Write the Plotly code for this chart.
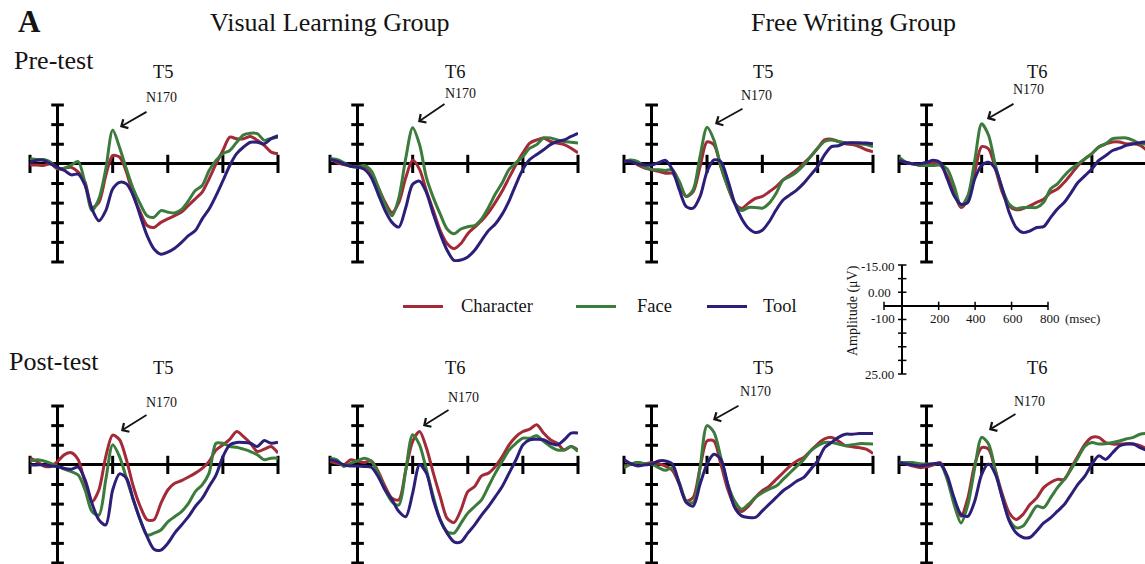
import plotly.graph_objects as go

W, H = 1145, 564

# ---------------- data ----------------
time_ms = [-100, -75, -50, -25, 0, 25, 50, 75, 100, 125, 150, 175, 200, 225, 250, 275, 300,
           325, 350, 375, 400, 425, 450, 475, 500, 525, 550, 575, 600, 625, 650, 675, 700,
           725, 750, 775, 800]
categories = ["Character", "Face", "Tool"]
colors = ["#A32A36", "#3B7B3B", "#2B1F7A"]
x_tick_ms = [-100, 200, 400, 600, 800]
y_tick_uv = [-15, -10, -5, 5, 10, 15, 20, 25]
scale_x_labels = ["-100", "200", "400", "600", "800"]
scale_y_labels = ["-15.00", "0.00", "25.00"]
electrodes = ["T5", "T6", "T5", "T6"]
groups = ["Visual Learning Group", "Free Writing Group"]
sessions = ["Pre-test", "Post-test"]

# Visual Learning Group, Pre-test
vl_pre_t5_character = [0.3, 0.3, 0.4, 0, 1.3, 1.1, 0.9, 2.1, 4.7, 11.1, 9.8, 3.0, -2.1, -1.7, 2.1, 8.1, 12.3, 15.7, 16.2, 14.9, 14.0, 13.2, 12.3, 10.6, 8.9, 7.2, 3.8, 0, -3.4, -6.8, -6.4, -6.4, -7.0, -6.0, -4.7, -3.0, -2.6]
vl_pre_t5_face = [-1.3, -1.1, -1.1, -0.4, 1.1, 1.1, 0.3, -0.6, 5.0, 11.9, 8.9, 1.3, -8.6, -4.2, 1.3, 6.4, 10.2, 13.2, 13.6, 11.9, 12.3, 12.5, 11.6, 9.4, 6.8, 5.5, 1.7, -0.9, -2.6, -3.4, -5.5, -7.4, -7.8, -7.7, -6.0, -6.5, -6.8]
vl_pre_t5_tool = [-0.4, -0.9, -0.9, 0, 0.9, 1.7, 2.8, 2.6, 5.5, 11.5, 14.5, 11.9, 6.4, 4.7, 5.1, 8.1, 13.2, 18.3, 21.7, 23.0, 22.5, 21.5, 20.0, 18.3, 17.0, 14.0, 11.5, 8.1, 4.3, 0.4, -2.6, -4.3, -5.5, -5.5, -5.1, -6.4, -7.2]

vl_pre_t6_character = [-1.5, -0.3, 0.2, 0.6, 0.8, 0.6, 2.3, 6.0, 9.8, 12.4, 9.8, 3.5, -0.9, 1.4, 6.9, 11.9, 17.0, 20.3, 21.6, 20.3, 17.8, 16.1, 14.5, 12.4, 9.8, 6.9, 3.5, 0.2, -2.8, -5.3, -6.1, -6.6, -5.7, -5.3, -4.9, -4.0, -2.8]
vl_pre_t6_face = [-1.3, -1.1, -0.3, 0.6, 0.8, 0.4, 1.8, 6.0, 10.3, 13.2, 8.6, -1.5, -9.2, -4.9, 3.5, 8.6, 12.8, 16.6, 17.8, 16.6, 16.0, 15.7, 14.0, 11.1, 7.7, 4.8, 1.4, -0.3, -1.9, -4.0, -4.9, -6.6, -6.6, -6.1, -5.7, -5.5, -5.3]
vl_pre_t6_tool = [-1.1, -0.7, 0, 0.6, 0.8, 1.4, 3.5, 7.7, 11.9, 14.9, 16.1, 11.1, 5.2, 4.4, 7.3, 12.8, 17.8, 22.0, 24.6, 24.5, 23.7, 22.0, 19.5, 17.0, 15.3, 12.8, 9.4, 5.2, 1.4, -1.1, -2.4, -3.6, -4.9, -5.7, -6.1, -7.0, -7.8]

# Free Writing Group, Pre-test
fw_pre_t5_character = [-0.6, -0.9, 0.3, 1.1, 1.5, 1.9, 2.4, 2.4, 5.4, 8.3, 7.1, 0.7, -5.6, -4.9, 0.7, 5.8, 10.0, 11.3, 10.0, 8.8, 8.3, 7.1, 5.8, 4.1, 2.8, 1.5, -0.2, -1.9, -4.0, -6.1, -6.3, -5.7, -5.1, -4.9, -4.4, -3.6, -3.1]
fw_pre_t5_face = [-0.6, -1.0, -0.6, 0.9, 1.4, 1.5, 1.7, 1.5, 4.5, 8.3, 6.6, -1.9, -9.3, -6.1, 0.7, 5.8, 10.0, 11.9, 11.1, 11.1, 11.3, 10.0, 7.5, 4.1, 3.2, 2.0, 0.3, -1.9, -4.0, -5.7, -6.1, -5.7, -5.4, -5.3, -5.1, -4.9, -4.4]
fw_pre_t5_tool = [-0.6, -0.6, 0, 0.3, 0.3, -0.3, -0.9, 1.5, 6.6, 10.9, 11.3, 8.3, 2.0, -1.0, -0.6, 4.1, 10.0, 13.9, 16.4, 17.5, 16.9, 14.7, 11.7, 9.2, 7.9, 6.6, 4.9, 2.8, 0.7, -2.3, -4.4, -4.6, -5.3, -5.4, -5.4, -5.3, -5.1]

fw_pre_t6_character = [-1.3, -0.4, 0, 0.4, 0.3, -0.3, 0.3, 3.0, 7.3, 11.1, 9.0, 2.1, -4.4, -3.8, 1.3, 7.3, 10.7, 11.7, 11.4, 10.7, 9.8, 9.0, 7.3, 6.4, 4.7, 2.6, 0.4, -1.3, -2.6, -4.3, -5.1, -5.6, -5.6, -5.1, -5.1, -4.7, -3.4]
fw_pre_t6_face = [-1.7, -0.4, 0, 0.3, 0.4, 0.4, 0.3, 1.3, 5.6, 10.7, 8.1, -0.9, -10.2, -7.3, 0.4, 6.4, 10.3, 11.4, 11.1, 11.1, 11.1, 9.8, 6.4, 5.1, 3.0, 1.3, 0, -1.3, -2.6, -4.3, -5.1, -6.4, -6.6, -6.6, -6.0, -5.1, -5.1]
fw_pre_t6_tool = [-0.9, -0.4, 0, 0, -0.4, -0.9, -0.3, 3.8, 8.1, 10.3, 9.8, 3.8, 0.4, -0.4, 1.3, 6.4, 12.4, 16.2, 17.5, 17.1, 16.2, 16.0, 13.7, 11.5, 9.8, 7.3, 4.7, 3.0, 1.3, -0.9, -2.1, -3.4, -4.0, -4.7, -5.1, -5.4, -5.6]

# Visual Learning Group, Post-test
vl_post_t5_character = [-1.7, -0.9, 0.3, 0.4, -0.9, -2.6, -3.1, -1.3, 4.7, 9.4, 6.4, -2.1, -7.6, -6.4, -1.3, 5.5, 10.6, 14.0, 14.0, 9.8, 6.4, 4.7, 4.0, 3.1, 2.1, 0.9, -0.9, -3.8, -5.1, -6.5, -8.5, -7.2, -5.5, -3.4, -4.0, -4.7, -3.0]
vl_post_t5_face = [-0.9, -1.3, -1.0, -0.4, 0.3, 1.1, 1.7, 2.6, 6.4, 11.9, 12.8, 3.8, -5.1, -2.1, 3.4, 8.9, 14.0, 17.9, 17.4, 16.6, 14.5, 13.2, 11.9, 9.8, 6.8, 5.1, 2.1, -5.5, -5.5, -4.7, -4.5, -4.0, -3.4, -2.6, -1.3, -1.7, -1.7]
vl_post_t5_tool = [0, 0, 0, 0.3, 0.4, 0.9, 1.1, 0.6, 3.8, 9.8, 14.0, 15.3, 6.4, 2.3, 3.4, 8.9, 14.0, 18.3, 21.5, 21.7, 20.0, 17.4, 15.3, 13.2, 10.6, 8.5, 5.5, 2.6, -2.1, -5.1, -5.7, -5.7, -5.5, -4.7, -6.2, -5.5, -5.8]

vl_post_t6_character = [-0.9, -0.4, 0, -1.3, -0.9, -0.6, -1.0, 1.7, 5.5, 8.5, 8.9, 1.3, -6.0, -8.5, -4.3, 2.1, 8.1, 13.6, 14.7, 11.5, 6.8, 5.5, 2.8, 2.1, 0.4, -2.1, -5.1, -7.2, -8.5, -9.1, -10.2, -8.1, -6.4, -5.5, -3.8, -4.7, -3.8]
vl_post_t6_face = [-1.7, -1.3, 0.4, -0.4, -1.1, -1.7, -0.9, 2.1, 6.4, 9.4, 10.2, 1.3, -7.7, -5.1, 1.3, 8.1, 14.0, 17.0, 17.4, 14.9, 12.3, 10.6, 8.9, 5.5, 2.1, -0.9, -3.8, -5.5, -6.8, -6.8, -7.4, -6.0, -4.7, -3.8, -3.8, -4.7, -3.4]
vl_post_t6_tool = [-1.3, -0.9, 0, 0.3, 0.3, 0.4, 0.6, 3.0, 6.4, 8.9, 11.9, 13.2, 7.2, 0, 2.1, 8.9, 14.0, 17.4, 19.6, 19.6, 17.4, 15.3, 12.8, 10.6, 8.1, 5.5, 2.1, -1.3, -5.1, -6.4, -6.5, -6.4, -5.5, -5.1, -6.4, -8.1, -8.1]

# Free Writing Group, Post-test
fw_post_t5_character = [0.3, -0.2, -0.6, -0.2, -0.6, -0.3, 0.3, 1.4, 4.9, 9.2, 8.3, 0.7, -6.1, -6.1, -0.2, 6.2, 10.5, 11.9, 10.5, 8.3, 6.6, 5.4, 3.7, 2.0, 0.3, -1.0, -1.9, -3.6, -5.3, -6.6, -7.0, -6.1, -4.9, -4.6, -4.4, -4.0, -2.9]
fw_post_t5_face = [0.7, -0.2, -0.6, -0.3, -0.2, 0.7, 1.4, 0.7, 4.5, 9.2, 9.6, 0.7, -10.0, -8.3, -1.9, 4.9, 9.2, 11.3, 10.0, 8.3, 7.1, 6.2, 5.4, 3.7, 2.0, 0.3, -1.4, -3.6, -4.9, -5.7, -5.7, -5.3, -4.9, -5.1, -5.4, -5.4, -5.3]
fw_post_t5_tool = [-1.4, -0.3, 0.3, 0, -0.2, -1.0, -1.0, -0.2, 4.9, 9.6, 10.5, 4.9, -0.2, -2.7, -1.4, 4.9, 10.9, 13.0, 13.4, 13.4, 11.7, 10.0, 8.3, 6.6, 5.4, 4.1, 3.2, 1.1, -1.0, -4.4, -5.7, -7.0, -7.8, -7.8, -8.0, -8.0, -8.0]

fw_post_t6_character = [-0.6, -0.3, 0.3, 0.7, 0.5, 0, -0.6, 3.2, 9.2, 13.1, 8.4, -0.2, -4.4, -4.0, 1.5, 7.5, 12.2, 13.9, 12.6, 10.1, 8.4, 5.8, 4.5, 3.7, 3.7, 0.7, -2.3, -5.3, -7.0, -7.0, -5.7, -5.3, -5.3, -5.4, -5.3, -4.9, -4.0]
fw_post_t6_face = [-0.6, -0.6, -0.6, -0.3, -0.2, -0.2, -0.2, 3.7, 10.1, 14.8, 10.1, 0.7, -7.0, -5.3, 1.5, 8.4, 13.9, 16.0, 15.6, 13.1, 10.5, 10.9, 8.4, 5.8, 3.7, 1.1, -1.9, -4.8, -5.7, -5.3, -5.4, -5.7, -6.1, -6.6, -7.0, -7.8, -8.0]
fw_post_t6_tool = [-0.6, -0.2, 0, 0.3, 0, -0.3, -0.3, 2.8, 8.4, 12.6, 13.1, 9.2, 2.4, -0.2, 2.4, 8.4, 14.3, 17.3, 18.5, 18.5, 16.8, 14.8, 13.5, 11.8, 10.1, 7.5, 4.9, 2.8, -0.2, -2.3, -1.4, -3.1, -4.8, -5.3, -5.3, -4.4, -3.7]

panel_series = [
    (vl_pre_t5_character, vl_pre_t5_face, vl_pre_t5_tool),
    (vl_pre_t6_character, vl_pre_t6_face, vl_pre_t6_tool),
    (fw_pre_t5_character, fw_pre_t5_face, fw_pre_t5_tool),
    (fw_pre_t6_character, fw_pre_t6_face, fw_pre_t6_tool),
    (vl_post_t5_character, vl_post_t5_face, vl_post_t5_tool),
    (vl_post_t6_character, vl_post_t6_face, vl_post_t6_tool),
    (fw_post_t5_character, fw_post_t5_face, fw_post_t5_tool),
    (fw_post_t6_character, fw_post_t6_face, fw_post_t6_tool),
]

# ---------------- layout constants (pixels) ----------------
T_MIN, T_MAX = -100, 800
V_TOP, V_BOT = -15, 25
COL_X = [(30, 278), (330, 578), (624, 873), (899, 1147)]
ROW_Y = [(105, 262), (406, 563)]
TITLE_X = [163, 455, 763, 1037]
TITLE_Y = [72, 368]
# N170 arrow heads/tails and label centres, per panel
ARROW_HEAD = [(120, 127), (418, 122), (715, 124), (987, 119), (121, 431), (423, 426), (713, 420), (989, 430)]
ARROW_TAIL = [(148, 111), (446, 103), (744, 108), (1015, 103), (148, 414), (450, 409), (740, 405), (1017, 413)]
N170_POS = [(161, 98), (460, 93), (756, 95), (1028, 90), (161, 402), (463, 397), (755, 391), (1029, 401)]
SCALE_BOX = (884, 1048, 265, 374)

SERIF = "Liberation Serif, Times New Roman, serif"
INK = "#141414"


def px(x):
    return x / W


def py(y):
    return 1 - y / H


fig = go.Figure()
layout_axes = {}


def add_axes(idx, x0, x1, y0, y1, lw, tick_x, tick_y, tlw):
    xa = "x" if idx == 1 else f"x{idx}"
    ya = "y" if idx == 1 else f"y{idx}"
    tmax = T_MAX
    if x1 > W:
        tmax = T_MIN + (W - x0) / (x1 - x0) * (T_MAX - T_MIN)
        x1 = W
    common = dict(showgrid=False, zeroline=True, zerolinecolor="black", zerolinewidth=lw,
                  showticklabels=False, ticks="", showline=False, fixedrange=True)
    layout_axes["xaxis" if idx == 1 else f"xaxis{idx}"] = dict(
        domain=[px(x0), px(x1)], range=[T_MIN, tmax], anchor=ya, **common)
    layout_axes["yaxis" if idx == 1 else f"yaxis{idx}"] = dict(
        domain=[py(y1), py(y0)], range=[V_BOT, V_TOP], anchor=xa, **common)
    fig.add_trace(go.Scatter(
        x=x_tick_ms, y=[0] * len(x_tick_ms), mode="markers", xaxis=xa, yaxis=ya,
        marker=dict(symbol="line-ns", size=tick_x, color="black", line=dict(width=tlw, color="black")),
        cliponaxis=False, showlegend=False, hoverinfo="skip"))
    fig.add_trace(go.Scatter(
        x=[0] * len(y_tick_uv), y=y_tick_uv, mode="markers", xaxis=xa, yaxis=ya,
        marker=dict(symbol="line-ew", size=tick_y, color="black", line=dict(width=tlw, color="black")),
        cliponaxis=False, showlegend=False, hoverinfo="skip"))
    return xa, ya


for i, series in enumerate(panel_series):
    row, col = divmod(i, 4)
    x0, x1 = COL_X[col]
    y0, y1 = ROW_Y[row]
    xa, ya = add_axes(i + 1, x0, x1, y0, y1, 3, 13, 9, 3)
    for name, color, vals in zip(categories, colors, series):
        fig.add_trace(go.Scatter(
            x=time_ms, y=vals, mode="lines", name=name, xaxis=xa, yaxis=ya,
            line=dict(color=color, width=3, shape="spline", smoothing=0.8),
            showlegend=False, hoverinfo="skip"))

# scale inset
add_axes(9, SCALE_BOX[0], SCALE_BOX[1], SCALE_BOX[2], SCALE_BOX[3], 2, 6, 6, 1.5)

ann = []


def text(x, y, s, size, xanchor="center", bold=False, angle=0):
    ann.append(dict(x=px(x), y=py(y), xref="paper", yref="paper", text=f"<b>{s}</b>" if bold else s,
                    showarrow=False, xanchor=xanchor, yanchor="middle", textangle=angle,
                    font=dict(family=SERIF, size=size, color=INK)))


text(16, 21, "A", 31, xanchor="left", bold=True)
text(330, 22, groups[0], 26)
text(853, 22, groups[1], 26)
text(12, 60, sessions[0], 26, xanchor="left")
text(7, 361, sessions[1], 26, xanchor="left")

for r in range(2):
    for c in range(4):
        text(TITLE_X[c], TITLE_Y[r], electrodes[c], 18.5)

for (hx, hy), (tx, ty), (nx, ny) in zip(ARROW_HEAD, ARROW_TAIL, N170_POS):
    ann.append(dict(x=px(hx), y=py(hy), xref="paper", yref="paper", ax=tx - hx, ay=ty - hy,
                    axref="pixel", ayref="pixel", text="", showarrow=True, arrowhead=4,
                    arrowsize=1.1, arrowwidth=1.8, arrowcolor=INK))
    text(nx, ny, "N170", 14)

# legend (manual, sample lines + labels)
LEG_LINE_X = [403, 576, 707]
LEG_TEXT_X = [459, 635, 761]
LEG_Y = 306
shapes = []
for name, color, lx, tx in zip(categories, colors, LEG_LINE_X, LEG_TEXT_X):
    shapes.append(dict(type="line", xref="paper", yref="paper", x0=px(lx), x1=px(lx + 40),
                       y0=py(LEG_Y + 0.5), y1=py(LEG_Y + 0.5), line=dict(color=color, width=3)))
    text(tx, LEG_Y, name, 18.5, xanchor="left")

# scale inset labels
for lab, xx in zip(scale_x_labels, [883, 940, 976, 1013, 1050]):
    text(xx, 318, lab, 13)
text(1063, 318, "(msec)", 13, xanchor="left")
for lab, (xx, yy) in zip(scale_y_labels, [(897, 267), (893, 292), (896, 374)]):
    text(xx, yy, lab, 13, xanchor="right")
text(853, 311, "Amplitude (μV)", 14, angle=-90)

fig.update_layout(
    width=W, height=H, autosize=False,
    margin=dict(l=0, r=0, t=0, b=0, pad=0),
    paper_bgcolor="white", plot_bgcolor="rgba(0,0,0,0)",
    showlegend=False, annotations=ann, shapes=shapes, **layout_axes)

fig.write_html("out.html", config={"displayModeBar": False, "staticPlot": True},
               post_script="document.body.style.margin='0px';document.body.style.overflow='hidden';")
